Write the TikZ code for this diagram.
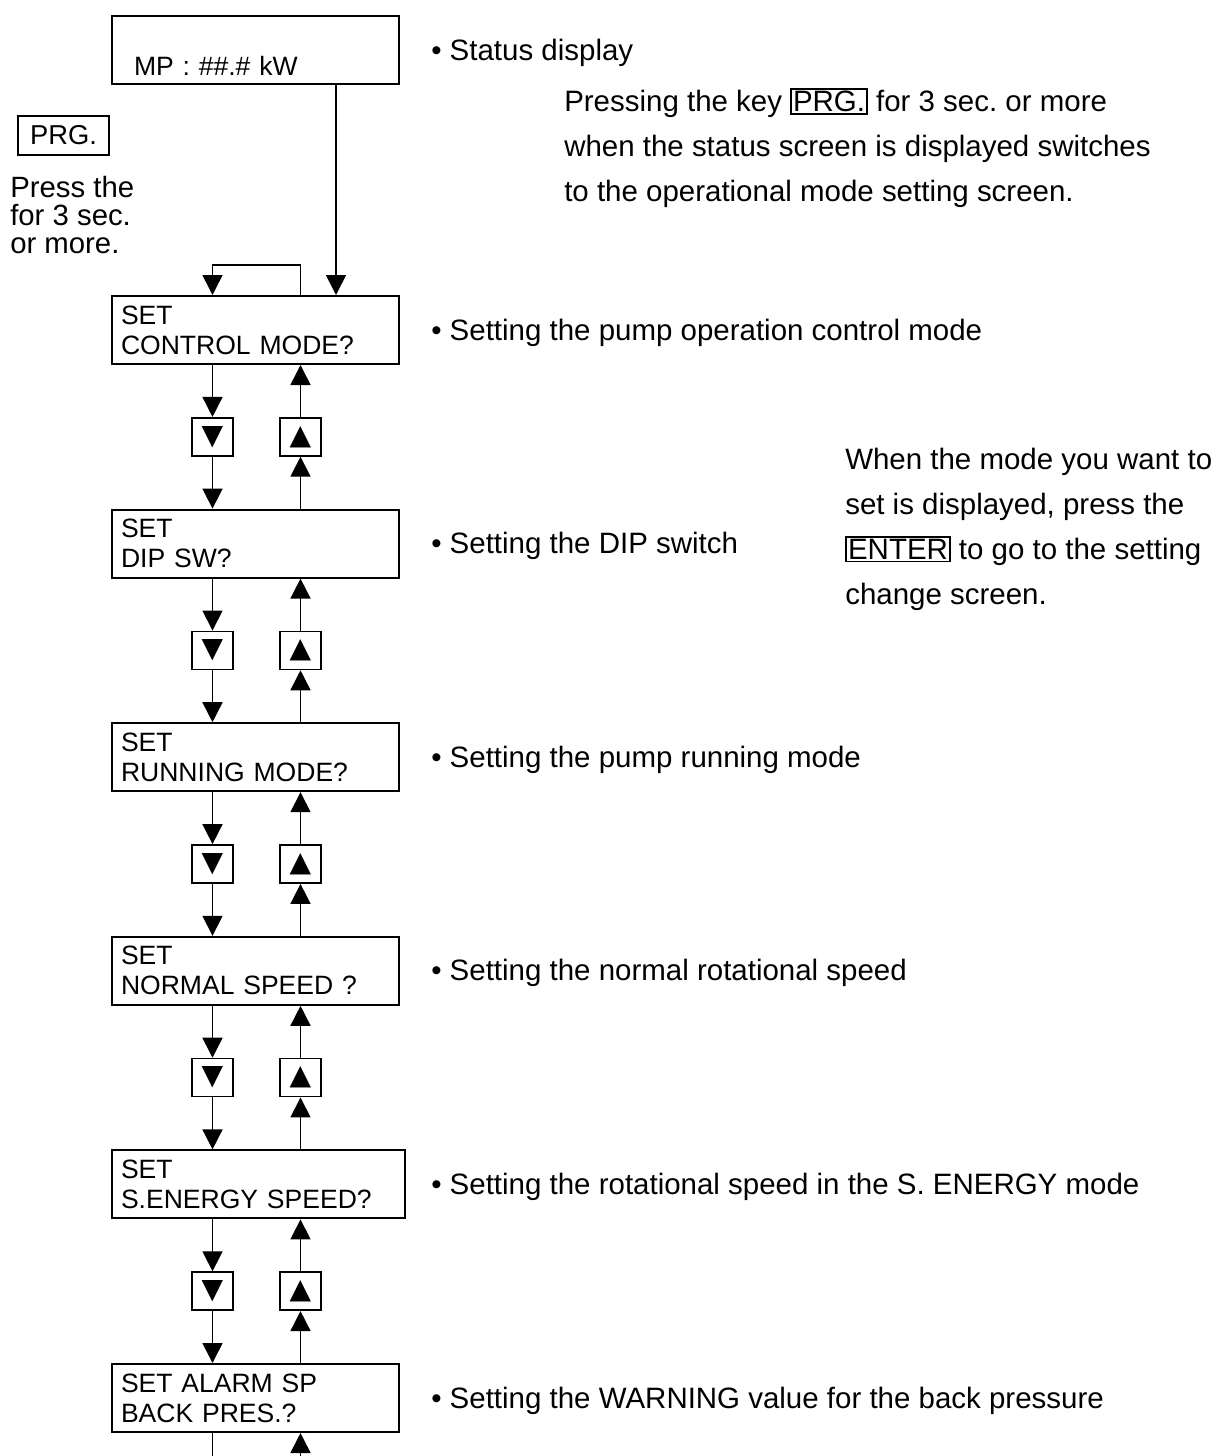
\documentclass[tikz,border=0pt]{standalone}
\usepackage{fontspec}
\setmainfont{Liberation Sans}
\newfontfamily\symfont{DejaVu Sans}
\usetikzlibrary{calc,positioning,arrows.meta}
\frenchspacing

\newcommand{\keycap}[1]{{\setlength{\fboxsep}{0.8pt}\setlength{\fboxrule}{1.3pt}\fbox{#1}}}

\tikzset{
  lcd/.style={draw, line width=1.5pt, anchor=north west, minimum width=215.25pt,
    minimum height=51pt, inner xsep=6.75pt, text width=201.75pt, align=left,
    font=\fontsize{19.9}{22.5}\selectfont},
  keybox/.style={draw, line width=1.3pt, minimum width=30.75pt, minimum height=28.5pt,
    inner sep=0pt, font=\symfont\fontsize{21}{21}\selectfont},
  note/.style={inner sep=0pt, anchor=base west, align=left,
    font=\fontsize{22.1}{33.75}\selectfont},
  arr/.style={line width=1.2pt, -{Triangle[width=15pt,length=15pt]}},
  wire/.style={line width=1.2pt},
}

\begin{document}
\begin{tikzpicture}[x=0.75pt, y=-0.75pt]
\useasboundingbox (0,0) rectangle (1215,1456);

% columns of the down / up keys, row pitch
\def\XD{212.5}
\def\XU{300.5}
\def\DY{213.6}
\coordinate (colD) at (\XD,0);
\coordinate (colU) at (\XU,0);
\coordinate (colS) at (336,0);

% ----- status screen -----
% (base of a multi-line note = its last line)
\node[lcd, inner xsep=16.5pt, text width=182.25pt] (status) at (111,15) {\strut\\MP : \#\#.\# kW};
\node[note] (status-txt) at ($(status.east)+(31,10)$) {• Status display};
\node[note] (prg-txt) at (564,201.5) {Pressing the key \keycap{PRG.} for 3 sec. or more\\when the status screen is displayed switches\\to the operational mode setting screen.};

% ----- PRG key, left side -----
\node[draw, line width=1.3pt, minimum width=68.25pt, minimum height=29.25pt, inner sep=0pt,
  font=\fontsize{20.5}{20.5}\selectfont] (prg) at (63.5,135.5) {PRG.};
\node[note, font=\fontsize{22}{21}\selectfont] (press) at (10,253) {Press the\\for 3 sec.\\or more.};

% ----- mode screens -----
\node[lcd] (ctrl) at (111,295) {SET\\CONTROL MODE?};
\node[note] (ctrl-txt) at ($(ctrl.east)+(31,10)$) {• Setting the pump operation control mode};

\node[lcd] (dip) at (111,295+\DY) {SET\\DIP SW?};
\node[note] (dip-txt) at ($(dip.east)+(31,10)$) {• Setting the DIP switch};

\node[lcd] (run) at (111,295+2*\DY) {SET\\RUNNING MODE?};
\node[note] (run-txt) at ($(run.east)+(31,10)$) {• Setting the pump running mode};

\node[lcd] (norm) at (111,295+3*\DY) {SET\\NORMAL SPEED ?};
\node[note] (norm-txt) at ($(norm.east)+(31,10)$) {• Setting the normal rotational speed};

\node[lcd, minimum width=219.75pt, text width=206.25pt] (sener) at (111,295+4*\DY) {SET\\S.ENERGY SPEED?};
\node[note] (sener-txt) at ($(sener.east)+(25,10)$) {• Setting the rotational speed in the S. ENERGY mode};

\node[lcd] (alarm) at (111,295+5*\DY) {SET ALARM SP\\BACK PRES.?};
\node[note] (alarm-txt) at ($(alarm.east)+(31,10)$) {• Setting the WARNING value for the back pressure};

% ENTER hint
\node[note] (enter-txt) at (845,604.5) {When the mode you want to\\set is displayed, press the\\\keycap{ENTER} to go to the setting\\change screen.};

% ----- connectors -----
\draw[arr] (status.south -| colS) -- (ctrl.north -| colS);
\draw[arr] (ctrl.north -| colU) -- ++(0,-30) -| (ctrl.north -| colD);

\foreach \a/\b [count=\i] in {ctrl/dip, dip/run, run/norm, norm/sener, sener/alarm} {
  \node[keybox] (dn\i) at ($(\a.south -| colD)!0.5!(\b.north -| colD)$) {▼};
  \node[keybox] (up\i) at ($(\a.south -| colU)!0.5!(\b.north -| colU)$) {▲};
  \draw[arr] (\a.south -| colD) -- (dn\i);
  \draw[arr] (dn\i) -- (\b.north -| colD);
  \draw[arr] (\b.north -| colU) -- (up\i);
  \draw[arr] (up\i) -- (\a.south -| colU);
}

% leaving the last screen
\coordinate (dnend) at (\XD,1456);
\coordinate (upend) at (\XU,1456);
\draw[wire] (alarm.south -| dnend) -- (dnend);
\draw[arr] (upend) -- (alarm.south -| upend);

\end{tikzpicture}
\end{document}
